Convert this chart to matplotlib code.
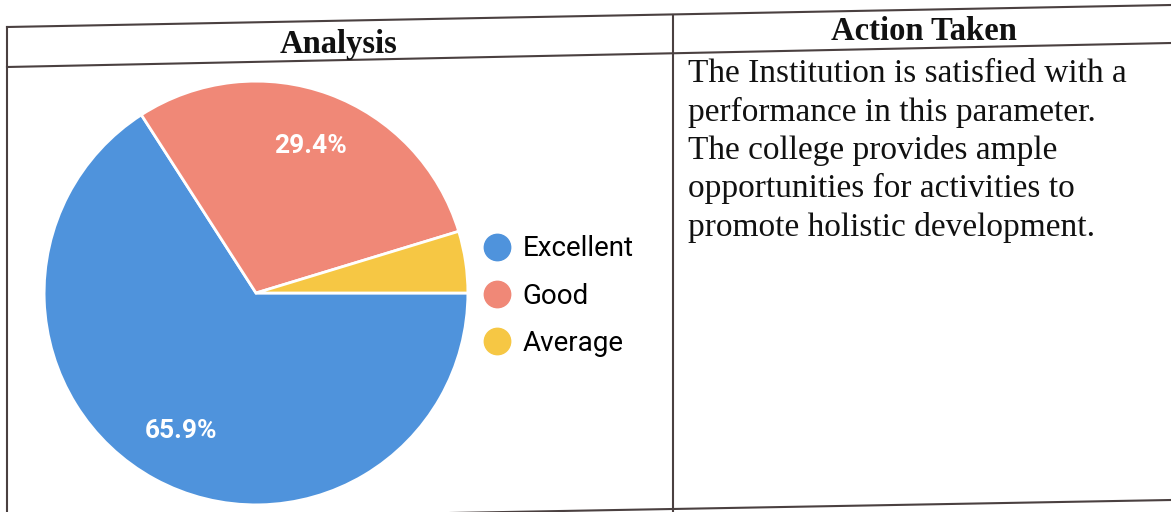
import matplotlib.pyplot as plt
from matplotlib.lines import Line2D

labels = ["Excellent", "Good", "Average"]
values = [65.9, 29.4, 4.7]
colors = ["#4f93dc", "#f08877", "#f6c744"]

header_left = "Analysis"
header_right = "Action Taken"
action_lines = [
    "The Institution is satisfied with a",
    "performance in this parameter.",
    "The college provides ample",
    "opportunities for activities to",
    "promote holistic development.",
]

W, H = 1171, 512
fig = plt.figure(figsize=(W / 100, H / 100), dpi=100)
fig.patch.set_facecolor("white")

# overlay in pixel coords for the table
ov = fig.add_axes([0, 0, 1, 1])
ov.set_xlim(0, W)
ov.set_ylim(H, 0)
ov.axis("off")

lc = "#4a4040"
lw = 1.5
ov.plot([7, 1171], [27, 5], color=lc, lw=lw)
ov.plot([7, 1171], [67, 43], color=lc, lw=lw)
ov.plot([7, 1171], [521, 500], color=lc, lw=lw)
ov.plot([7, 7], [27, 520], color=lc, lw=lw)
ov.plot([673, 673], [15, 512], color=lc, lw=lw)

serif = ["Liberation Serif", "DejaVu Serif"]
ov.text(338, 44, header_left, ha="center", va="center", fontsize=23.5,
        fontweight="bold", family=serif, color="#111111")
ov.text(924, 31, header_right, ha="center", va="center", fontsize=23.5,
        fontweight="bold", family=serif, color="#111111")
for i, line in enumerate(action_lines):
    ov.text(688, 74 + i * 38.3, line, ha="left", va="center", fontsize=24,
            family=serif, color="#111111")

# pie
cx, cy, r = 256, 293, 214
pax = fig.add_axes([(cx - r) / W, (H - cy - r) / H, 2 * r / W, 2 * r / H])


def fmt(p):
    return f"{p:.1f}%" if p >= 5 else ""


wedges, texts, autotexts = pax.pie(
    values, colors=colors, startangle=0, counterclock=False,
    autopct=fmt, pctdistance=0.74,
    wedgeprops=dict(edgecolor="white", linewidth=2),
    textprops=dict(color="white", fontsize=19, fontweight="bold",
                   family=["Roboto", "DejaVu Sans"]),
)
pax.set_xlim(-1.01, 1.01)
pax.set_ylim(-1.01, 1.01)

handles = [Line2D([], [], marker="o", linestyle="none", markersize=19,
                  markerfacecolor=c, markeredgecolor=c) for c in colors]
fig.legend(handles, labels, loc="center left",
           bbox_to_anchor=(482 / W, 1 - 296 / H), frameon=False,
           prop=dict(family=["Roboto", "DejaVu Sans"], size=20),
           handletextpad=0.35, labelspacing=0.73, handlelength=1.1,
           borderpad=0, borderaxespad=0)

fig.savefig("out.png", dpi=100, facecolor="white")
